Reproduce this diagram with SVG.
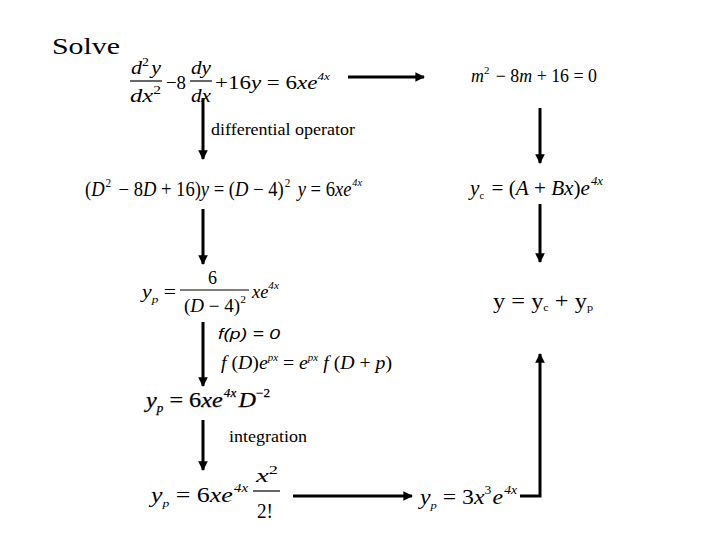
<svg xmlns="http://www.w3.org/2000/svg" width="720" height="540" viewBox="0 0 720 540">
<style>
.t{font-family:"Liberation Serif","Times New Roman",serif;fill:#000}
.m{font-family:"Liberation Serif","Times New Roman",serif;font-style:italic;fill:#000}
.s{font-family:"Liberation Sans",Arial,sans-serif;font-style:italic;fill:#000}
.up{font-style:normal}
.c{stroke:#000;stroke-width:3;fill:none}
.f{stroke:#000;stroke-width:1.2}
</style>
<defs>
<marker id="ah" viewBox="0 0 10 10" refX="9" refY="5" markerWidth="3.2" markerHeight="3.2" orient="auto" markerUnits="strokeWidth">
<path d="M0,0 L10,5 L0,10 z" fill="#000"/>
</marker>
</defs>
<rect width="720" height="540" fill="#fff"/>
<text class="t" x="52" y="54" font-size="23" textLength="68" lengthAdjust="spacingAndGlyphs">Solve</text>

<g id="ode">
<text class="m" x="131" y="74" font-size="19" textLength="30" lengthAdjust="spacingAndGlyphs">d<tspan font-size="12" dy="-8" class="up">2</tspan><tspan dy="8" dx="2">y</tspan></text>
<line class="f" x1="130" y1="81" x2="162" y2="81"/>
<text class="m" x="130" y="102" font-size="19" textLength="31" lengthAdjust="spacingAndGlyphs">dx<tspan font-size="12" dy="-8" class="up">2</tspan></text>
<text class="t" x="166" y="89" font-size="19" textLength="20" lengthAdjust="spacingAndGlyphs">−8</text>
<text class="m" x="191" y="74" font-size="19" textLength="20" lengthAdjust="spacingAndGlyphs">dy</text>
<line class="f" x1="190" y1="81" x2="212" y2="81"/>
<text class="m" x="191" y="102" font-size="19" textLength="20" lengthAdjust="spacingAndGlyphs">dx</text>
<text class="m" x="215" y="89" font-size="19" textLength="115" lengthAdjust="spacingAndGlyphs"><tspan class="up">+16</tspan>y<tspan class="up"> = 6</tspan>xe<tspan font-size="11" dy="-9">4x</tspan></text>
</g>

<g id="char">
<text class="m" x="471" y="82" font-size="18" textLength="126" lengthAdjust="spacingAndGlyphs">m<tspan font-size="11" dy="-8" class="up">2</tspan><tspan class="up" dy="8" dx="2"> − 8</tspan>m<tspan class="up"> + 16 = 0</tspan></text>
</g>

<g id="opform">
<text class="m" x="85" y="196" font-size="20" textLength="277" lengthAdjust="spacingAndGlyphs"><tspan class="up">(</tspan>D<tspan class="up" font-size="12" dy="-9" dx="1">2</tspan><tspan class="up" dy="9" dx="3"> − 8</tspan>D<tspan class="up"> + 16)</tspan>y<tspan class="up"> = (</tspan>D<tspan class="up"> − 4)</tspan><tspan class="up" font-size="12" dy="-9" dx="1">2</tspan><tspan dy="9" dx="3"> y</tspan><tspan class="up"> = 6</tspan>xe<tspan font-size="11" dy="-10" dx="1">4x</tspan></text>
</g>

<g id="yc">
<text class="m" x="470" y="195" font-size="20" textLength="133" lengthAdjust="spacingAndGlyphs">y<tspan font-size="10" dy="4" class="up">c</tspan><tspan class="up" dy="-4" dx="2"> = (</tspan>A<tspan class="up"> + </tspan>Bx<tspan class="up">)</tspan>e<tspan font-size="12" dy="-10" dx="1">4x</tspan></text>
</g>

<g id="yp1">
<text class="m" x="142" y="298" font-size="18" textLength="34" lengthAdjust="spacingAndGlyphs">y<tspan font-size="11" dy="5">p</tspan><tspan class="up" dy="-5"> =</tspan></text>
<text class="t" x="208" y="284" font-size="18">6</text>
<line class="f" x1="180" y1="290" x2="249" y2="290"/>
<text class="m" x="184" y="312" font-size="18" textLength="62" lengthAdjust="spacingAndGlyphs"><tspan class="up">(</tspan>D<tspan class="up"> − 4)</tspan><tspan class="up" font-size="11" dy="-9">2</tspan></text>
<text class="m" x="252" y="298" font-size="18" textLength="27" lengthAdjust="spacingAndGlyphs">xe<tspan font-size="11" dy="-9">4x</tspan></text>
</g>

<g id="ysol">
<text class="t" x="493" y="308" font-size="22" textLength="100" lengthAdjust="spacingAndGlyphs">y = y<tspan font-size="11" dy="3">c</tspan><tspan dy="-3"> + y</tspan><tspan font-size="11" dy="3">p</tspan></text>
</g>

<g id="shift">
<text class="s" x="218" y="339" font-size="15" textLength="62" lengthAdjust="spacingAndGlyphs">f(p) = 0</text>
<text class="m" x="221" y="369" font-size="18" textLength="171" lengthAdjust="spacingAndGlyphs">f<tspan class="up"> (</tspan>D<tspan class="up">)</tspan>e<tspan font-size="10" dy="-8">px</tspan><tspan class="up" dy="8"> = </tspan>e<tspan font-size="10" dy="-8">px</tspan><tspan dy="8"> f</tspan><tspan class="up"> (</tspan>D<tspan class="up"> + </tspan>p<tspan class="up">)</tspan></text>
</g>

<g id="yp2">
<text class="m" x="146" y="407" font-size="22" textLength="124" lengthAdjust="spacingAndGlyphs" stroke="#000" stroke-width="0.25">y<tspan font-size="12" dy="5">p</tspan><tspan class="up" dy="-5"> = 6</tspan>xe<tspan font-size="12" dy="-10" dx="1">4x</tspan><tspan dy="10" dx="2">D</tspan><tspan class="up" font-size="12" dy="-10">−2</tspan></text>
</g>

<g id="yp3">
<text class="m" x="151" y="502" font-size="21" textLength="97" lengthAdjust="spacingAndGlyphs">y<tspan font-size="11" dy="5">p</tspan><tspan class="up" dy="-5"> = 6</tspan>xe<tspan font-size="12" dy="-10" dx="1">4x</tspan></text>
<text class="m" x="256" y="482" font-size="19" textLength="22" lengthAdjust="spacingAndGlyphs">x<tspan class="up" font-size="12" dy="-8">2</tspan></text>
<line class="f" x1="253" y1="491" x2="280" y2="491"/>
<text class="t" x="257" y="518" font-size="20" textLength="16" lengthAdjust="spacingAndGlyphs">2!</text>
</g>

<g id="yp4">
<text class="m" x="420" y="504" font-size="21" textLength="97" lengthAdjust="spacingAndGlyphs">y<tspan font-size="11" dy="5">p</tspan><tspan class="up" dy="-5"> = 3</tspan>x<tspan class="up" font-size="12" dy="-10">3</tspan><tspan dy="10" dx="1">e</tspan><tspan font-size="12" dy="-10" dx="1">4x</tspan></text>
</g>

<text class="t" x="211" y="135" font-size="17" textLength="144" lengthAdjust="spacingAndGlyphs">differential operator</text>
<text class="t" x="229" y="442" font-size="17" textLength="78" lengthAdjust="spacingAndGlyphs">integration</text>

<g id="connectors">
<line class="c" x1="348" y1="77" x2="424" y2="77" marker-end="url(#ah)"/>
<line class="c" x1="540" y1="108" x2="540" y2="163" marker-end="url(#ah)"/>
<line class="c" x1="540" y1="204" x2="540" y2="262" marker-end="url(#ah)"/>
<line class="c" x1="203" y1="98" x2="203" y2="159" marker-end="url(#ah)"/>
<line class="c" x1="203" y1="209" x2="203" y2="264" marker-end="url(#ah)"/>
<line class="c" x1="203" y1="322" x2="203" y2="386" marker-end="url(#ah)"/>
<line class="c" x1="203" y1="420" x2="203" y2="470" marker-end="url(#ah)"/>
<line class="c" x1="293" y1="496" x2="412" y2="496" marker-end="url(#ah)"/>
<path class="c" d="M520,496 H540 V354" marker-end="url(#ah)"/>
</g>
</svg>
